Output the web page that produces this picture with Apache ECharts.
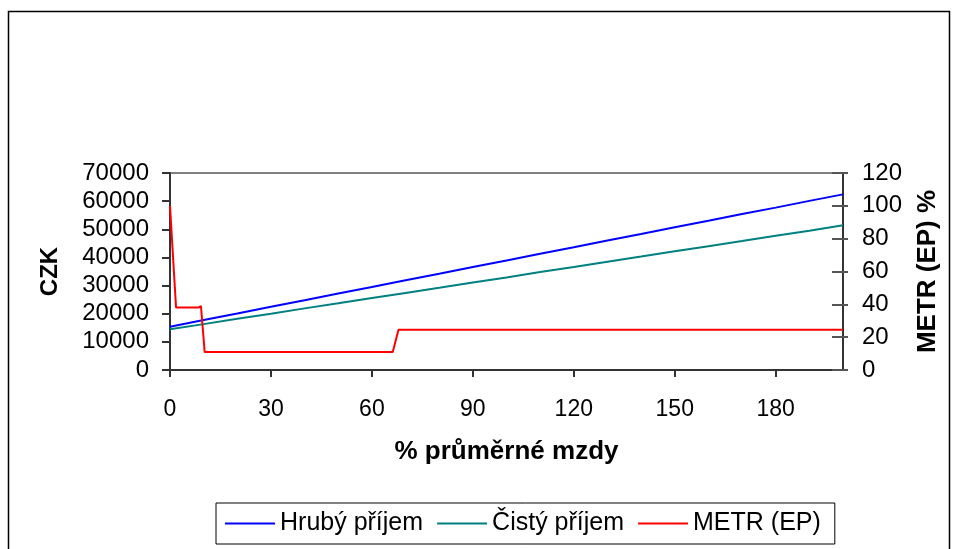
<!DOCTYPE html>
<html>
<head>
<meta charset="utf-8">
<script src="https://cdn.jsdelivr.net/npm/echarts@6/dist/echarts.min.js"></script>
<style>
html,body{margin:0;padding:0;background:#fff;}
#chart{width:960px;height:549px;}
</style>
</head>
<body>
<div id="chart"></div>
<script>
// % of average wage (x)
const xPct = [0,10,20,30,40,50,60,70,80,90,100,110,120,130,140,150,160,170,180,190,200];
// Gross income (CZK)
const hruby = [15400,17800,20100,22500,24800,27200,29500,31900,34200,36600,38900,41300,43600,46000,48300,50700,53000,55400,57700,60100,62400];
// Net income (CZK)
const cisty = [14500,16300,18200,20000,21900,23700,25600,27400,29200,31100,32900,34800,36600,38500,40300,42200,44000,45800,47700,49500,51400];
// METR (EP) % : x positions and values
const metrX = [0,1.8,8.5,9.2,10.3,40.5,41,41.5,66.2,67.9,200];
const metrY = [100,38,38,39,11,11,10,11,11,24.5,24.5];

const seriesNames = ['Hrubý příjem','Čistý příjem','METR (EP)'];
const leftTicks = {min:0,max:70000,interval:10000};
const rightTicks = {min:0,max:120,interval:20};

const FONT = 'Liberation Sans, Arial, sans-serif';
const pair = (xs, ys) => xs.map((x,i)=>[x, ys[i]]);

const chart = echarts.init(document.getElementById('chart'), null, {renderer:'canvas'});
chart.setOption({
  animation:false,
  backgroundColor:'#fff',
  textStyle:{fontFamily:FONT},
  graphic:[
    {type:'rect', shape:{x:8.5,y:11.5,width:941,height:560}, style:{fill:'none',stroke:'#000',lineWidth:1.5}, silent:true, z:-1}
  ],
  grid:{left:170,right:117,top:173,bottom:179,show:true,borderColor:'#808080',borderWidth:2,backgroundColor:'transparent'},
  legend:{
    left:216, top:503, padding:[8,14,8,9],
    borderColor:'#000', borderWidth:1,
    itemGap:14, itemWidth:50, itemHeight:2, icon:'rect',
    textStyle:{fontSize:25,color:'#000',fontFamily:FONT},
    data:seriesNames
  },
  xAxis:{
    type:'value', min:0, max:200, interval:30,
    name:'% průměrné mzdy', nameLocation:'middle', nameGap:69,
    nameTextStyle:{fontSize:26,fontWeight:'bold',color:'#000',fontFamily:FONT},
    axisLine:{lineStyle:{color:'#333',width:2}},
    axisTick:{length:7,lineStyle:{color:'#333',width:2}},
    axisLabel:{fontSize:23,color:'#000',margin:28,showMaxLabel:false,formatter:v=> (v%30===0? String(v):'')},
    splitLine:{show:false}
  },
  yAxis:[
    {
      type:'value', position:'left', min:leftTicks.min, max:leftTicks.max, interval:leftTicks.interval,
      name:'CZK', nameLocation:'middle', nameGap:108, nameRotate:90,
      nameTextStyle:{fontSize:24,fontWeight:'bold',color:'#000',fontFamily:FONT},
      axisLine:{show:true,lineStyle:{color:'#333',width:2}},
      axisTick:{show:true,length:8,lineStyle:{color:'#333',width:2}},
      axisLabel:{fontSize:24,color:'#000',margin:21,formatter:v=>String(v)},
      splitLine:{show:false}
    },
    {
      type:'value', position:'right', min:rightTicks.min, max:rightTicks.max, interval:rightTicks.interval,
      name:'METR (EP) %', nameLocation:'middle', nameGap:72, nameRotate:90,
      nameTextStyle:{fontSize:26,fontWeight:'bold',color:'#000',fontFamily:FONT},
      axisLine:{show:true,lineStyle:{color:'#333',width:2}},
      axisTick:{show:true,length:5,lineStyle:{color:'#555',width:2}},
      axisLabel:{fontSize:24,color:'#000',margin:19,formatter:v=>String(v)},
      splitLine:{show:false}
    },
    {
      type:'value', position:'right', min:rightTicks.min, max:rightTicks.max, interval:rightTicks.interval,
      axisLine:{show:false},
      axisTick:{show:true,inside:true,length:11,lineStyle:{color:'#555',width:2}},
      axisLabel:{show:false},
      splitLine:{show:false}
    }
  ],
  series:[
    {name:seriesNames[0], type:'line', yAxisIndex:0, data:pair(xPct,hruby), showSymbol:false, lineStyle:{color:'#0000ff',width:2}, itemStyle:{color:'#0000ff'}},
    {name:seriesNames[1], type:'line', yAxisIndex:0, data:pair(xPct,cisty), showSymbol:false, lineStyle:{color:'#008080',width:2}, itemStyle:{color:'#008080'}},
    {name:seriesNames[2], type:'line', yAxisIndex:1, data:pair(metrX,metrY), showSymbol:false, lineStyle:{color:'#ff0000',width:2}, itemStyle:{color:'#ff0000'}}
  ]
});
</script>
</body>
</html>
